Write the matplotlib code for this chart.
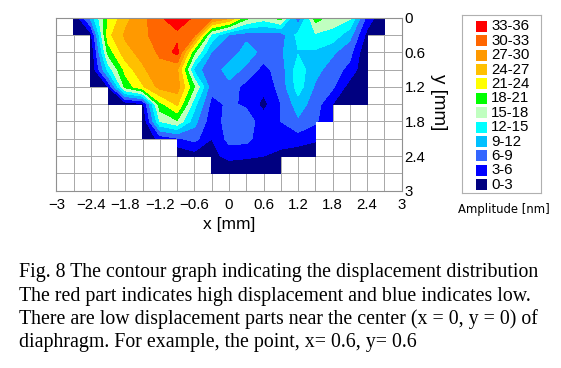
#!/usr/bin/env python3
import matplotlib
matplotlib.use("Agg")
import matplotlib.pyplot as plt
from matplotlib.patches import Rectangle
import numpy as np

N = np.nan

x = [-3.0, -2.7, -2.4, -2.1, -1.8, -1.5, -1.2, -0.9, -0.6, -0.3, 0.0,
     0.3, 0.6, 0.9, 1.2, 1.5, 1.8, 2.1, 2.4, 2.7, 3.0]
y = [0.0, 0.3, 0.6, 0.9, 1.2, 1.5, 1.8, 2.1, 2.4, 2.7, 3.0]

# amplitude in nm, one list per y
row_00 = [N, 0, 10, 21, 26, 29, 32.5, 35.5, 32.5, 31, 28, 19, 16.5, 19.5, 6.5, 19.5, 16.5, 15.5, 5, 0, N]
row_03 = [N, 0, 2, 23, 27.5, 29.5, 31, 32, 30.5, 14, 8.8, 7.5, 7.5, 7.5, 13, 14.5, 14, 10, 2, 0, N]
row_06 = [N, N, 0, 19, 26, 28, 30.5, 34, 18.5, 8.8, 5.9, 11.2, 7.5, 8.5, 11.8, 11.5, 9.5, 7, 0, N, N]
row_09 = [N, N, 0, 13, 22, 26.5, 29, 27.5, 11, 5.9, 11.2, 8, 5, 7.5, 13.5, 10, 7.5, 5, 0, N, N]
row_12 = [N, N, 0, 3, 19, 23.5, 28, 28.5, 18, 7, 7.5, 5, 4, 7, 13.5, 8.5, 6.5, 1.5, 0, N, N]
row_15 = [N, N, N, 0, 1, 2, 20, 24.5, 13, 5, 6.5, 5.5, 2, 6, 10.5, 7.5, 3, 0, 0, N, N]
row_18 = [N, N, N, N, N, 0, 15, 17.5, 10, 4, 7.5, 7.5, 4.5, 6, 8.5, 6.5, 3, N, N, N, N]
row_21 = [N, N, N, N, N, 0, 4, 5.5, 7, 3, 7, 7, 4, 4.5, 4.5, 3.5, N, N, N, N, N]
row_24 = [N, N, N, N, N, N, N, 0, 1.5, 2, 4, 3.5, 3, 2, 1, 0.5, N, N, N, N, N]
row_27 = [N, N, N, N, N, N, N, N, N, 0, 0, 0, 0, 0, N, N, N, N, N, N, N]
row_30 = [N] * 21

levels = [0, 3, 6, 9, 12, 15, 18, 21, 24, 27, 30, 33, 36]
band_labels = ["0-3", "3-6", "6-9", "9-12", "12-15", "15-18", "18-21",
               "21-24", "24-27", "27-30", "30-33", "33-36"]
band_colors = ["#000080", "#0000ff", "#3366ff", "#00c0ff", "#00ffff", "#c0ffc0",
               "#00ff00", "#ffff00", "#ffc000", "#ff9900", "#ff6600", "#ff0000"]

tick_pos = [-3, -2.4, -1.8, -1.2, -0.6, 0, 0.6, 1.2, 1.8, 2.4, 3]
x_tick_labels = ["\u22123", "\u22122.4", "\u22121.8", "\u22121.2", "\u22120.6", "0",
                 "0.6", "1.2", "1.8", "2.4", "3"]
y_tick_pos = [0, 0.6, 1.2, 1.8, 2.4, 3]
y_tick_labels = ["0", "0.6", "1.2", "1.8", "2.4", "3"]

caption = [
    "Fig. 8 The contour graph indicating the displacement distribution",
    "The red part indicates high displacement and blue indicates low.",
    "There are low displacement parts near the center (x = 0, y = 0) of",
    "diaphragm. For example, the point, x= 0.6, y= 0.6",
]

W, H = 561, 368
plt.rcParams["font.family"] = ["Liberation Sans", "DejaVu Sans"]

fig = plt.figure(figsize=(W / 100, H / 100), dpi=100)
ax = fig.add_axes([56.3 / W, 1 - 190.7 / H, 345.4 / W, 173 / H])

z = np.ma.masked_invalid(np.array([row_00, row_03, row_06, row_09, row_12, row_15,
                                   row_18, row_21, row_24, row_27, row_30]))
ax.contourf(x, y, z, levels=levels, colors=band_colors, corner_mask=False, antialiased=False)

ax.set_xlim(-3, 3)
ax.set_ylim(3, 0)
ax.set_xticks(np.arange(-3, 3.01, 0.3), minor=True)
ax.set_yticks(np.arange(0, 3.01, 0.3), minor=True)
ax.set_xticks(tick_pos)
ax.set_xticklabels(x_tick_labels)
ax.set_yticks(y_tick_pos)
ax.set_yticklabels(y_tick_labels)
ax.yaxis.tick_right()
ax.tick_params(which="both", length=0, labelsize=10.8)
ax.tick_params(axis="y", pad=2)
ax.tick_params(axis="x", pad=5)
ax.grid(which="both", color="#a8a8a8", linewidth=0.7)
ax.set_axisbelow(True)
for s in ax.spines.values():
    s.set_color("#909090")
    s.set_linewidth(0.8)

fig.text(229 / W, 1 - 224 / H, "x [mm]", fontsize=12.5, ha="center", va="center")
fig.text(438 / W, 1 - 102 / H, "y [mm]", fontsize=13.5, rotation=-90, ha="center", va="center")

# legend box in its own axes, counted in pixels from its top left corner
leg = fig.add_axes([461.7 / W, 1 - 192.7 / H, 79 / W, 177.7 / H])
leg.set_xlim(0, 79)
leg.set_ylim(177.7, 0)
leg.set_xticks([])
leg.set_yticks([])
for s in leg.spines.values():
    s.set_color("#b0b0b0")
    s.set_linewidth(0.8)
for i, (c, lab) in enumerate(zip(band_colors[::-1], band_labels[::-1])):
    cy = 11.3 + 14.4 * i
    leg.add_patch(Rectangle((14, cy - 5.5), 11, 11, facecolor=c, edgecolor="none"))
    leg.text(29.5, cy, lab, fontsize=10.8, ha="left", va="center")

fig.text(504 / W, 1 - 209 / H, "Amplitude [nm]", fontsize=8.4, family="DejaVu Sans",
         ha="center", va="center")

for line, py in zip(caption, [272, 296, 319, 343]):
    fig.text(19 / W, 1 - py / H, line, fontsize=14.3, family="Liberation Serif",
             ha="left", va="center")

fig.savefig("out.png", dpi=100)
